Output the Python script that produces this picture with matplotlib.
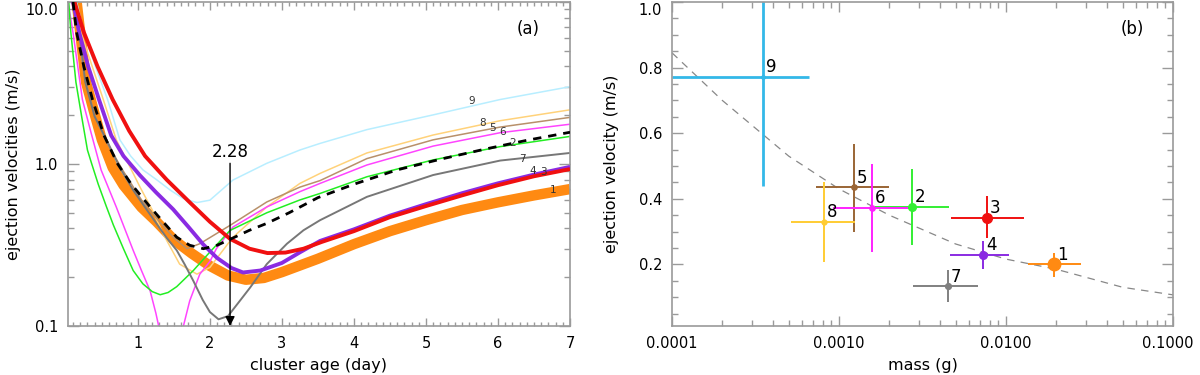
import numpy as np
import matplotlib
matplotlib.use('Agg')
import matplotlib.pyplot as plt
import matplotlib.transforms as mtransforms
from matplotlib.ticker import (FixedLocator, MultipleLocator, LogLocator,
                               NullFormatter, FormatStrFormatter)

plt.rcParams['font.family'] = ['DejaVu Sans']

# ---------------- Panel (a): ejection velocity vs cluster age ----------------
age_1 = [0.15, 0.28, 0.41, 0.50, 0.65, 0.80, 1.05, 1.26, 1.50, 1.75, 2.00, 2.25, 2.50,
         2.75, 3.00, 3.50, 4.00, 4.50, 5.00, 5.50, 6.00, 6.50, 7.00]
vel_1 = [10.0, 3.2, 1.96, 1.41, 0.95, 0.74, 0.54, 0.44, 0.34, 0.28, 0.235, 0.205, 0.193,
         0.198, 0.215, 0.26, 0.32, 0.385, 0.45, 0.52, 0.58, 0.64, 0.70]

age_2 = [0.04, 0.07, 0.14, 0.22, 0.30, 0.36, 0.45, 0.565, 0.66, 0.80, 0.935, 1.07, 1.20,
         1.31, 1.42, 1.54, 1.77, 2.00, 2.28, 2.79, 3.25, 3.53, 4.18, 5.10, 6.03, 7.00]
vel_2 = [10.0, 6.46, 3.2, 1.96, 1.22, 1.0, 0.75, 0.543, 0.42, 0.30, 0.22, 0.182, 0.163,
         0.156, 0.161, 0.175, 0.22, 0.286, 0.389, 0.50, 0.60, 0.658, 0.834, 1.06, 1.28, 1.48]

age_3 = [0.12, 0.25, 0.44, 0.65, 0.88, 1.10, 1.40, 1.72, 2.00, 2.28, 2.55, 2.80,
         3.05, 3.30, 3.55, 4.00, 4.50, 5.00, 5.50, 6.00, 6.50, 7.00]
vel_3 = [10.0, 6.5, 4.0, 2.5, 1.6, 1.12, 0.80, 0.58, 0.44, 0.345, 0.30, 0.282,
         0.284, 0.30, 0.33, 0.385, 0.47, 0.55, 0.64, 0.74, 0.84, 0.93]

age_4 = [0.10, 0.185, 0.31, 0.46, 0.63, 0.80, 1.03, 1.25, 1.49, 1.70, 1.91, 2.10, 2.30,
         2.46, 2.70, 3.00, 3.25, 3.53, 4.00, 4.50, 5.00, 5.50, 6.00, 6.50, 7.00]
vel_4 = [10.0, 6.5, 4.0, 2.5, 1.5, 1.12, 0.85, 0.67, 0.525, 0.41, 0.318, 0.263, 0.228,
         0.214, 0.22, 0.245, 0.285, 0.335, 0.395, 0.48, 0.565, 0.66, 0.76, 0.86, 0.96]

age_5 = [0.12, 0.25, 0.40, 0.55, 0.80, 1.05, 1.30, 1.50, 1.68, 1.86, 2.28, 2.79, 3.25,
         3.53, 4.18, 5.10, 6.03, 7.00]
vel_5 = [10.0, 3.6, 2.0, 1.4, 0.9, 0.6, 0.44, 0.35, 0.30, 0.322, 0.418, 0.583, 0.72,
         0.79, 1.08, 1.41, 1.69, 1.94]

age_6 = [0.03, 0.10, 0.23, 0.35, 0.49, 0.70, 0.935, 1.05, 1.17, 1.25, 1.30, 1.45, 1.62,
         1.72, 1.86, 2.00, 2.09, 2.32, 2.79, 3.25, 3.53, 4.18, 5.10, 6.03, 7.00]
vel_6 = [10.0, 6.46, 2.5, 1.56, 0.918, 0.543, 0.293, 0.22, 0.165, 0.12, 0.095, np.nan, 0.095,
         0.143, 0.209, 0.25, 0.30, 0.408, 0.543, 0.675, 0.759, 0.986, 1.29, 1.56, 1.76]

age_7 = [0.14, 0.27, 0.40, 0.565, 0.75, 0.935, 1.10, 1.26, 1.40, 1.54, 1.65, 1.77, 1.90,
         2.00, 2.12, 2.25, 2.40, 2.56, 2.79, 3.07, 3.30, 3.53, 4.18, 5.10, 6.03, 7.00]
vel_7 = [10.0, 3.2, 1.96, 1.41, 0.95, 0.69, 0.54, 0.428, 0.35, 0.293, 0.24, 0.19, 0.145,
         0.122, 0.110, 0.115, 0.14, 0.173, 0.241, 0.322, 0.39, 0.45, 0.627, 0.855, 1.05, 1.17]

age_8 = [0.13, 0.21, 0.52, 0.70, 0.935, 1.03, 1.20, 1.35, 1.58, 1.82, 2.00, 2.32, 2.79,
         3.25, 3.53, 4.18, 5.10, 6.03, 7.00]
vel_8 = [10.0, 6.46, 2.5, 1.41, 0.875, 0.72, 0.52, 0.371, 0.241, 0.209, 0.23, 0.353, 0.543,
         0.759, 0.875, 1.17, 1.51, 1.85, 2.16]

age_9 = [0.15, 0.25, 0.41, 0.58, 0.75, 0.90, 1.07, 1.26, 1.45, 1.63, 1.82, 2.00, 2.32,
         2.79, 3.25, 3.53, 4.18, 5.10, 6.03, 7.00]
vel_9 = [10.0, 6.46, 4.02, 2.5, 1.41, 1.12, 0.92, 0.80, 0.69, 0.612, 0.578, 0.598, 0.796,
         1.01, 1.22, 1.34, 1.63, 2.01, 2.5, 3.0]

age_mean = [0.10, 0.15, 0.25, 0.37, 0.53, 0.72, 0.90, 1.17, 1.35, 1.54, 1.72, 1.91, 2.10,
            2.30, 2.55, 2.79, 3.10, 3.50, 4.00, 4.60, 5.20, 5.80, 6.40, 7.00]
vel_mean = [10.0, 6.46, 4.0, 2.5, 1.5, 1.0, 0.76, 0.543, 0.44, 0.353, 0.315, 0.30, 0.315,
            0.346, 0.39, 0.43, 0.50, 0.62, 0.75, 0.92, 1.07, 1.23, 1.40, 1.57]

curve_labels = ['1', '2', '3', '4', '5', '6', '7', '8', '9']
label_age = [6.77, 6.20, 6.63, 6.48, 5.92, 6.06, 6.34, 5.78, 5.64]
label_vel = [0.69, 1.34, 0.896, 0.909, 1.66, 1.57, 1.08, 1.79, 2.44]

best_age = 2.28

# ---------------- Panel (b): ejection velocity vs mass ----------------
ids = ['1', '2', '3', '4', '5', '6', '7', '8', '9']
mass = [0.0194, 0.00275, 0.00766, 0.00731, 0.001225, 0.00157, 0.00448, 0.000817, 0.000352]
mass_lo = [0.01355, 0.00165, 0.00469, 0.00462, 0.00073, 0.000922, 0.00279, 0.000514, 0.0001]
mass_hi = [0.0281, 0.00457, 0.0129, 0.01038, 0.00199, 0.00267, 0.00677, 0.001247, 0.000658]
velo = [0.200, 0.375, 0.342, 0.228, 0.435, 0.372, 0.133, 0.329, 0.771]
velo_lo = [0.162, 0.258, 0.279, 0.186, 0.299, 0.238, 0.084, 0.208, 0.44]
velo_hi = [0.236, 0.49, 0.407, 0.271, 0.568, 0.506, 0.183, 0.45, 1.05]

fit_mass = [0.0001, 0.0002, 0.0005, 0.001, 0.002, 0.005, 0.01, 0.02, 0.05, 0.1]
fit_vel = [0.845, 0.70, 0.53, 0.43, 0.35, 0.262, 0.216, 0.185, 0.13, 0.107]

# ---------------- styles ----------------
curve_colors = ['#FF8A12', '#22EE22', '#F01010', '#8A2BE2', '#B8906A', '#FF44FF',
                '#777777', '#FFD27A', '#B8EEFF']
curve_lw = [7.5, 1.1, 2.8, 2.8, 1.1, 1.1, 1.4, 1.1, 1.1]
point_colors = ['#FF8A12', '#33EE33', '#F01010', '#8A2BE2', '#9A6535', '#FF22FF',
                '#808080', '#FFCC33', '#33B8E8']
point_ms = [9, 5.5, 7, 5.5, 3.8, 3.8, 4.2, 3.5, 2.5]
point_lw = [1.4, 1.4, 1.4, 1.4, 1.4, 1.4, 1.4, 1.4, 2.0]

axis_gray = '#9A9A9A'

fig = plt.figure(figsize=(12, 3.75), dpi=100)
ax1 = fig.add_axes([68 / 1200, 1 - 326 / 375, 502 / 1200, 324 / 375])
ax2 = fig.add_axes([672 / 1200, 1 - 326 / 375, 501 / 1200, 324 / 375])

for ax in (ax1, ax2):
    for sp in ax.spines.values():
        sp.set_color(axis_gray)
        sp.set_linewidth(1.2)
    ax.tick_params(which='both', direction='in', top=True, right=True,
                   color=axis_gray, labelsize=10.5, labelcolor='black', width=1.0)
    ax.tick_params(which='major', length=8, pad=7)
    ax.tick_params(which='minor', length=4)

# ---- panel (a)
ages = [age_1, age_2, age_3, age_4, age_5, age_6, age_7, age_8, age_9]
vels = [vel_1, vel_2, vel_3, vel_4, vel_5, vel_6, vel_7, vel_8, vel_9]
order = [0, 8, 7, 4, 5, 1, 6, 3, 2]
for i in order:
    ax1.plot(ages[i], vels[i], color=curve_colors[i], lw=curve_lw[i],
             solid_capstyle='butt', zorder=2 + (i in (2, 3)))
ax1.plot(age_mean, vel_mean, color='black', lw=2.0, linestyle=(0, (3, 2.5)), zorder=4)

for lab, xa, ya in zip(curve_labels, label_age, label_vel):
    ax1.text(xa, ya, lab, fontsize=7.5, color='#333333', ha='center', va='center',
             zorder=6)

ax1.annotate('', xy=(best_age, 0.1), xytext=(best_age, 1.01),
             arrowprops=dict(arrowstyle='-|>', color='black', lw=1.0,
                             mutation_scale=14, shrinkA=0, shrinkB=0), zorder=7)
ax1.text(best_age, 1.105, f'{best_age:.2f}', fontsize=12, ha='center', va='baseline')

ax1.set_yscale('log')
ax1.set_xlim(0.03, 7)
ax1.set_ylim(0.1, 10)
ax1.xaxis.set_major_locator(FixedLocator([1, 2, 3, 4, 5, 6, 7]))
ax1.xaxis.set_minor_locator(MultipleLocator(0.1))
ax1.xaxis.set_major_formatter(FormatStrFormatter('%d'))
ax1.yaxis.set_major_locator(FixedLocator([0.1, 1.0, 10.0]))
ax1.yaxis.set_minor_locator(LogLocator(base=10, subs=np.arange(2, 10)))
ax1.yaxis.set_major_formatter(FormatStrFormatter('%.1f'))
ax1.yaxis.set_minor_formatter(NullFormatter())
ax1.tick_params(axis='x', which='major', length=6)
ax1.tick_params(axis='x', which='minor', length=3)
ax1.set_xlabel('cluster age (day)', fontsize=11.5)
ax1.set_ylabel('ejection velocities (m/s)', fontsize=11.5)
ax1.xaxis.set_label_coords(0.5, -0.098)
ax1.yaxis.set_label_coords(-0.094, 0.5)
ax1.text(0.916, 0.916, '(a)', transform=ax1.transAxes, fontsize=12,
         ha='center', va='center')

# ---- panel (b)
ax2.plot(fit_mass, fit_vel, color='#888888', lw=0.9, linestyle=(0, (6, 5)), zorder=1)
for i in range(len(ids)):
    ax2.plot([mass_lo[i], mass_hi[i]], [velo[i], velo[i]], color=point_colors[i],
             lw=point_lw[i], zorder=2, solid_capstyle='butt')
    ax2.plot([mass[i], mass[i]], [velo_lo[i], velo_hi[i]], color=point_colors[i],
             lw=point_lw[i], zorder=2, solid_capstyle='butt')
    ax2.plot(mass[i], velo[i], 'o', color=point_colors[i], ms=point_ms[i],
             mec=point_colors[i], zorder=3)
    ax2.annotate(ids[i], (mass[i], velo[i]), xytext=(2, 0.5),
                 textcoords='offset points', fontsize=12, ha='left', va='bottom',
                 zorder=4)

ax2.set_xscale('log')
ax2.set_xlim(0.0001, 0.1)
ax2.set_ylim(0.012, 1.0)
ax2.xaxis.set_major_locator(FixedLocator([0.0001, 0.001, 0.01, 0.1]))
ax2.xaxis.set_minor_locator(LogLocator(base=10, subs=np.arange(2, 10)))
ax2.xaxis.set_major_formatter(FormatStrFormatter('%.4f'))
ax2.xaxis.set_minor_formatter(NullFormatter())
ax2.yaxis.set_major_locator(FixedLocator([0.2, 0.4, 0.6, 0.8, 1.0]))
ax2.yaxis.set_minor_locator(MultipleLocator(0.05))
ax2.yaxis.set_major_formatter(FormatStrFormatter('%.1f'))
ax2.tick_params(axis='x', which='major', length=7)
ax2.tick_params(axis='x', which='minor', length=4)
ax2.set_xlabel('mass (g)', fontsize=11.5)
ax2.set_ylabel('ejection velocity (m/s)', fontsize=11.5)
ax2.xaxis.set_label_coords(0.5, -0.098)
ax2.yaxis.set_label_coords(-0.106, 0.5)
ax2.text(0.919, 0.916, '(b)', transform=ax2.transAxes, fontsize=12,
         ha='center', va='center')

# nudge the top-most y tick labels down so they stay inside the figure,
# and the right-most x tick label left, as in the reference
fig.canvas.draw()
down = mtransforms.ScaledTranslation(0, -5 / 72, fig.dpi_scale_trans)
for ax in (ax1, ax2):
    labs = ax.get_yticklabels()
    labs[-1].set_transform(labs[-1].get_transform() + down)
left = mtransforms.ScaledTranslation(-4 / 72, 0, fig.dpi_scale_trans)
xl = ax2.get_xticklabels()
xl[-1].set_transform(xl[-1].get_transform() + left)

fig.savefig('out.png', dpi=100)
